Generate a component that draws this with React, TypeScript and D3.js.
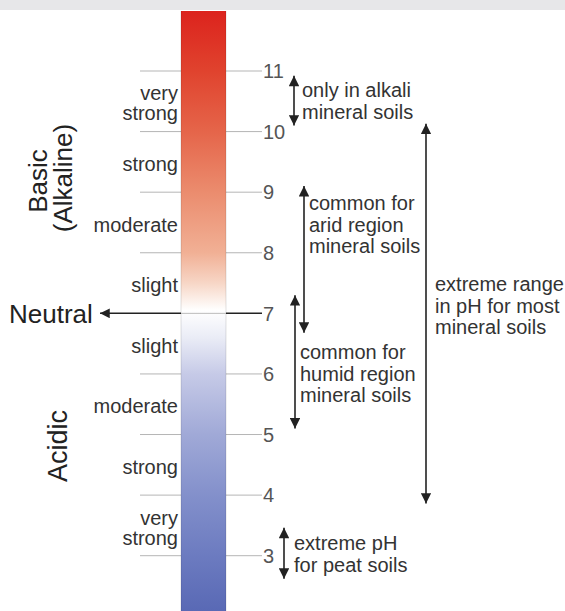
import React from "react";
import * as d3 from "d3";

// pH tick values on the scale
const phTicks = [3, 4, 5, 6, 7, 8, 9, 10, 11];

// strength labels on the left side of the bar, at the pH mid-point they describe
const strengthLabels = [
  { ph: 10.5, lines: ["very", "strong"] },
  { ph: 9.5, lines: ["strong"] },
  { ph: 8.5, lines: ["moderate"] },
  { ph: 7.5, lines: ["slight"] },
  { ph: 6.5, lines: ["slight"] },
  { ph: 5.5, lines: ["moderate"] },
  { ph: 4.5, lines: ["strong"] },
  { ph: 3.5, lines: ["very", "strong"] },
];

// range arrows on the right: [low pH, high pH]
const ranges = [
  { key: "alkali", low: 10.1, high: 10.92, lines: ["only in alkali", "mineral soils"] },
  { key: "arid", low: 6.68, high: 9.1, lines: ["common for", "arid region", "mineral soils"] },
  { key: "humid", low: 5.1, high: 7.3, lines: ["common for", "humid region", "mineral soils"] },
  { key: "extreme", low: 3.86, high: 10.13, lines: ["extreme range", "in pH for most", "mineral soils"] },
  { key: "peat", low: 2.62, high: 3.46, lines: ["extreme pH", "for peat soils"] },
];

// colour of the bar along the pH scale
const barStops = [
  { ph: 12, color: "#dc231d" },
  { ph: 11, color: "#e0432e" },
  { ph: 10, color: "#e5654a" },
  { ph: 9, color: "#eb8c6e" },
  { ph: 8, color: "#f1b095" },
  { ph: 7.5, color: "#f7d6c6" },
  { ph: 7.05, color: "#ffffff" },
  { ph: 6.6, color: "#eaecf6" },
  { ph: 6, color: "#c6cae7" },
  { ph: 5, color: "#a0a9d7" },
  { ph: 4, color: "#8390cb" },
  { ph: 3, color: "#6c7bc0" },
  { ph: 2, color: "#5969b5" },
];

const W = 565;
const H = 611;
const FONT = "'Liberation Sans', Arial, Helvetica, sans-serif";

const y = d3.scaleLinear().domain([3, 11]).range([555.7, 71]);
const barTop = 11;
const barBottom = H;
const barX0 = 181;
const barX1 = 226;

// layout for each range annotation (pixel placement only)
const rangeLayout: Record<string, { ax: number; tx: number; ty: number }> = {
  alkali: { ax: 294, tx: 302, ty: 90 },
  arid: { ax: 304, tx: 309, ty: 203 },
  humid: { ax: 295, tx: 300, ty: 352 },
  extreme: { ax: 426, tx: 435, ty: 284 },
  peat: { ax: 284, tx: 294, ty: 543 },
};

const LINE_H = 21.5;

function Arrow({ x, y1, y2 }: { x: number; y1: number; y2: number }) {
  return (
    <line
      x1={x}
      x2={x}
      y1={y1}
      y2={y2}
      stroke="#222"
      strokeWidth={1.6}
      markerStart="url(#headStart)"
      markerEnd="url(#headEnd)"
    />
  );
}

export default function App() {
  const gradY = d3.scaleLinear().domain([barTop, barBottom]).range([0, 1]);

  return (
    <svg
      width={W}
      height={H}
      style={{ position: "absolute", left: 0, top: 0, background: "#fff" }}
      fontFamily={FONT}
    >
      <defs>
        <linearGradient id="phGrad" x1="0" x2="0" y1="0" y2="1">
          {barStops.map((s) => {
            const py = s.ph >= 12 ? barTop : y(s.ph);
            const off = Math.max(0, Math.min(1, gradY(py)));
            return <stop key={s.ph} offset={off} stopColor={s.color} />;
          })}
        </linearGradient>
        <marker id="headEnd" viewBox="0 0 10 10" refX="10" refY="5" markerWidth="7" markerHeight="6.5" orient="auto" markerUnits="strokeWidth">
          <path d="M0,0 L10,5 L0,10 Z" fill="#222" />
        </marker>
        <marker id="headStart" viewBox="0 0 10 10" refX="0" refY="5" markerWidth="7" markerHeight="6.5" orient="auto" markerUnits="strokeWidth">
          <path d="M10,0 L0,5 L10,10 Z" fill="#222" />
        </marker>
      </defs>

      {/* top band */}
      <rect x={0} y={0} width={W} height={10} fill="#e7e7e9" />

      {/* tick lines */}
      {phTicks
        .filter((t) => t !== 7)
        .map((t) => (
          <g key={t}>
            <line x1={140} x2={barX0} y1={y(t)} y2={y(t)} stroke="#b5b5b5" strokeWidth={1} />
            <line x1={barX1} x2={262} y1={y(t)} y2={y(t)} stroke="#b5b5b5" strokeWidth={1} />
          </g>
        ))}

      {/* neutral arrow */}
      <line x1={262} x2={100} y1={y(7)} y2={y(7)} stroke="#222" strokeWidth={1.5} markerEnd="url(#headEnd)" />

      {/* bar */}
      <rect x={barX0} y={barTop} width={barX1 - barX0} height={barBottom - barTop} fill="url(#phGrad)" />
      <line x1={barX0} x2={barX0} y1={barTop} y2={barBottom} stroke="#000" strokeOpacity={0.12} />
      <line x1={barX1} x2={barX1} y1={barTop} y2={barBottom} stroke="#000" strokeOpacity={0.12} />
      <line x1={barX0} x2={barX1} y1={y(7)} y2={y(7)} stroke="#bbb" strokeWidth={1} />

      {/* tick labels */}
      {phTicks.map((t) => (
        <text key={t} x={263} y={y(t)} dy="0.36em" fontSize={20} fill="#555">
          {t}
        </text>
      ))}

      {/* strength labels */}
      {strengthLabels.map((s, i) => {
        const n = s.lines.length;
        const cy = y(s.ph) + 2;
        return (
          <text key={i} x={178} textAnchor="end" fontSize={20} fill="#333">
            {s.lines.map((l, j) => (
              <tspan key={j} x={178} y={cy + (j - (n - 1) / 2) * 20} dy="0.36em">
                {l}
              </tspan>
            ))}
          </text>
        );
      })}

      {/* section labels */}
      <text x={9} y={y(7)} dy="0.36em" fontSize={26} fill="#222">
        Neutral
      </text>
      <text transform={`translate(47,181) rotate(-90)`} textAnchor="middle" fontSize={26} fill="#222">
        Basic
      </text>
      <text transform={`translate(72,178) rotate(-90)`} textAnchor="middle" fontSize={26} fill="#222">
        (Alkaline)
      </text>
      <text transform={`translate(67,446) rotate(-90)`} textAnchor="middle" fontSize={27} fill="#222">
        Acidic
      </text>

      {/* range annotations */}
      {ranges.map((r) => {
        const L = rangeLayout[r.key];
        return (
          <g key={r.key}>
            <Arrow x={L.ax} y1={y(r.low)} y2={y(r.high)} />
            <text fontSize={20} fill="#333">
              {r.lines.map((l, j) => (
                <tspan key={j} x={L.tx} y={L.ty + j * LINE_H} dy="0.36em">
                  {l}
                </tspan>
              ))}
            </text>
          </g>
        );
      })}
    </svg>
  );
}
